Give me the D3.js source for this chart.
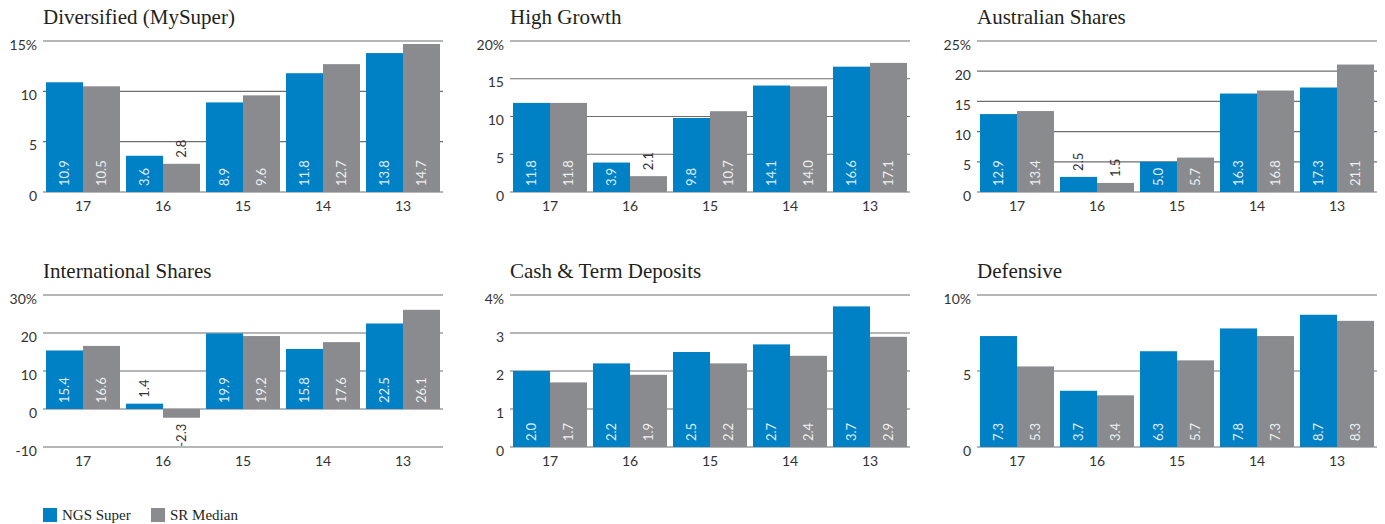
<!DOCTYPE html>
<html>
<head>
<meta charset="utf-8">
<script src="https://cdn.jsdelivr.net/npm/d3@7"></script>
<style>
  body { margin: 0; background: #fff; }
  .title { font-family: "Liberation Serif", serif; font-size: 21px; fill: #231f20; }
  .tick-label { font-family: Lato, sans-serif; font-size: 14px; fill: #333; }
  .cat-label { font-family: Lato, sans-serif; font-size: 14px; fill: #333; }
  .val-label { font-family: Lato, sans-serif; font-size: 13px; }
  .legend-label { font-family: "Liberation Serif", serif; font-size: 15px; fill: #231f20; }
</style>
</head>
<body>
<div id="chart"></div>
<script>
const categories = ["17", "16", "15", "14", "13"];
const seriesNames = ["NGS Super", "SR Median"];
const colors = ["#0081c6", "#8a8b8e"];

const titles = ["Diversified (MySuper)", "High Growth", "Australian Shares",
                "International Shares", "Cash & Term Deposits", "Defensive"];

const ngsSuper = [
    [10.9, 3.6, 8.9, 11.8, 13.8],
    [11.8, 3.9, 9.8, 14.1, 16.6],
    [12.9, 2.5, 5.0, 16.3, 17.3],
    [15.4, 1.4, 19.9, 15.8, 22.5],
    [2.0, 2.2, 2.5, 2.7, 3.7],
    [7.3, 3.7, 6.3, 7.8, 8.7]
];
const srMedian = [
    [10.5, 2.8, 9.6, 12.7, 14.7],
    [11.8, 2.1, 10.7, 14.0, 17.1],
    [13.4, 1.5, 5.7, 16.8, 21.1],
    [16.6, -2.3, 19.2, 17.6, 26.1],
    [1.7, 1.9, 2.2, 2.4, 2.9],
    [5.3, 3.4, 5.7, 7.3, 8.3]
];
const yDomains = [[0, 15], [0, 20], [0, 25], [-10, 30], [0, 4], [0, 10]];
const yTicks = [
    [0, 5, 10, 15],
    [0, 5, 10, 15, 20],
    [0, 5, 10, 15, 20, 25],
    [-10, 0, 10, 20, 30],
    [0, 1, 2, 3, 4],
    [0, 5, 10]
];

const width = 1385;
const height = 524;
const panelLeft = [43, 510, 977];
const panelWidth = 400;
const rowTop = [41, 295];
const rowBottom = [192, 447];

const svg = d3.select("#chart").append("svg")
    .attr("width", width)
    .attr("height", height);

titles.forEach((title, i) => {
    const col = i % 3, row = Math.floor(i / 3);
    const x0 = panelLeft[col];
    const g = svg.append("g");

    const x = d3.scaleBand()
        .domain(categories)
        .range([x0, x0 + panelWidth])
        .paddingInner(0.075)
        .paddingOuter(0.0375);
    const xs = d3.scaleBand()
        .domain(seriesNames)
        .range([0, x.bandwidth()]);
    const y = d3.scaleLinear()
        .domain(yDomains[i])
        .range([rowBottom[row], rowTop[row]]);

    g.append("text")
        .attr("class", "title")
        .attr("x", x0)
        .attr("y", rowTop[row] - 17)
        .text(title);

    // gridlines
    const ticks = yTicks[i];
    g.selectAll(".grid")
        .data(ticks)
        .enter().append("line")
        .attr("x1", x0)
        .attr("x2", x0 + panelWidth)
        .attr("y1", d => y(d))
        .attr("y2", d => y(d))
        .attr("stroke", "#6d6e71")
        .attr("stroke-width", 1.2);

    g.selectAll(".tick-label")
        .data(ticks)
        .enter().append("text")
        .attr("class", "tick-label")
        .attr("x", x0 - 6)
        .attr("y", d => y(d))
        .attr("dy", "0.62em")
        .attr("text-anchor", "end")
        .text((d, k) => k === ticks.length - 1 ? d + "%" : d);

    g.selectAll(".cat-label")
        .data(categories)
        .enter().append("text")
        .attr("class", "cat-label")
        .attr("x", d => x(d) + x.bandwidth() / 2)
        .attr("y", rowBottom[row] + 19)
        .attr("text-anchor", "middle")
        .text(d => d);

    const rows = [];
    categories.forEach((c, k) => {
        rows.push({ cat: c, s: seriesNames[0], v: ngsSuper[i][k], color: colors[0] });
        rows.push({ cat: c, s: seriesNames[1], v: srMedian[i][k], color: colors[1] });
    });

    g.selectAll(".bar")
        .data(rows)
        .enter().append("rect")
        .attr("x", d => x(d.cat) + xs(d.s))
        .attr("width", xs.bandwidth())
        .attr("y", d => Math.min(y(d.v), y(0)))
        .attr("height", d => Math.abs(y(d.v) - y(0)))
        .attr("fill", d => d.color);

    g.selectAll(".val-label")
        .data(rows)
        .enter().append("text")
        .attr("class", "val-label")
        .attr("transform", d => {
            const cx = x(d.cat) + xs(d.s) + xs.bandwidth() / 2;
            const h = Math.abs(y(d.v) - y(0));
            let py;
            if (d.v < 0) py = y(d.v) + 5 + 24;
            else if (h >= 29) py = y(0) - 6;
            else py = y(d.v) - 6;
            return `translate(${cx},${py}) rotate(-90)`;
        })
        .attr("dy", "0.36em")
        .attr("text-anchor", d => d.v < 0 ? "start" : "start")
        .attr("fill", d => {
            const h = Math.abs(y(d.v) - y(0));
            return (d.v >= 0 && h >= 29) ? "rgba(255,255,255,0.88)" : "#333";
        })
        .text(d => d.v.toFixed(1));
});

// legend
const legend = svg.append("g");
seriesNames.forEach((name, k) => {
    const lx = [43, 151][k];
    legend.append("rect")
        .attr("x", lx)
        .attr("y", 508)
        .attr("width", 14)
        .attr("height", 14)
        .attr("fill", colors[k]);
    legend.append("text")
        .attr("class", "legend-label")
        .attr("x", lx + 19)
        .attr("y", 520)
        .text(name);
});
</script>
</body>
</html>
